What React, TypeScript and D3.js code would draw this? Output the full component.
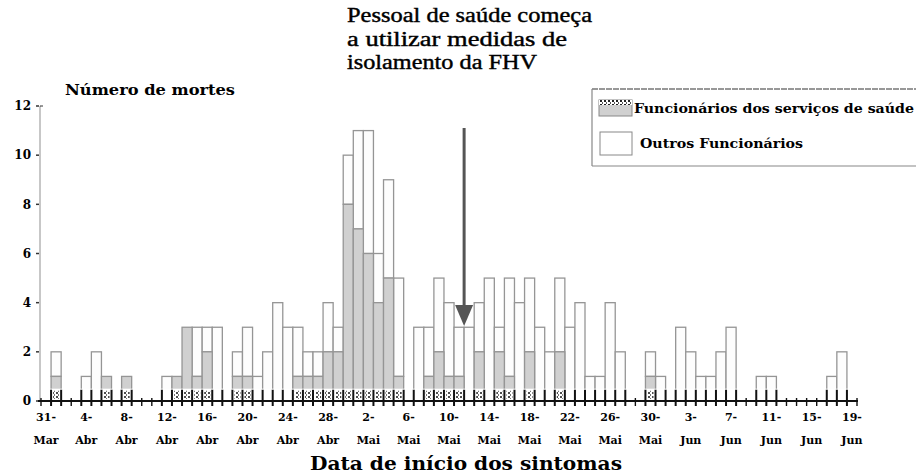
import React, { useEffect, useRef } from "react";
import * as d3 from "d3";

// one entry per day, 31-Mar .. 19-Jun
const totalDeaths = [
  0, 2, 0, 0, 1, 2, 1, 0, 1, 0, 0, 0, 1, 1, 3, 3, 3, 3, 0, 2,
  3, 1, 2, 4, 3, 3, 2, 2, 4, 3, 10, 11, 11, 6, 9, 5, 0, 3, 3, 5,
  4, 3, 3, 4, 5, 3, 5, 4, 5, 3, 2, 5, 3, 4, 1, 1, 4, 2, 0, 0,
  2, 1, 0, 3, 2, 1, 1, 2, 3, 0, 0, 1, 1, 0, 0, 0, 0, 0, 1, 2, 0,
];
const healthWorkers = [
  0, 1, 0, 0, 0, 0, 1, 0, 1, 0, 0, 0, 0, 1, 3, 1, 2, 0, 0, 1,
  1, 0, 0, 0, 0, 1, 1, 1, 2, 2, 8, 7, 6, 4, 5, 1, 0, 0, 1, 2,
  1, 1, 0, 2, 0, 2, 1, 0, 2, 0, 0, 2, 0, 0, 0, 0, 0, 0, 0, 0,
  1, 0, 0, 0, 0, 0, 0, 0, 0, 0, 0, 0, 0, 0, 0, 0, 0, 0, 0, 0, 0,
];
const tickDays = ["31-", "4-", "8-", "12-", "16-", "20-", "24-", "28-", "2-", "6-", "10-",
  "14-", "18-", "22-", "26-", "30-", "3-", "7-", "11-", "15-", "19-"];
const tickMonths = ["Mar", "Abr", "Abr", "Abr", "Abr", "Abr", "Abr", "Abr", "Mai", "Mai", "Mai",
  "Mai", "Mai", "Mai", "Mai", "Mai", "Jun", "Jun", "Jun", "Jun", "Jun"];
const yTicks = [0, 2, 4, 6, 8, 10, 12];
const annotation = ["Pessoal  de saúde começa", "a utilizar medidas de", "isolamento da FHV"];
const legendLabels = ["Funcionários dos serviços de saúde", "Outros Funcionários"];

const serif = "'DejaVu Serif', 'Liberation Serif', serif";
const times = "'Liberation Serif', 'DejaVu Serif', serif";

const App = () => {
  const ref = useRef(null);

  useEffect(() => {
    const width = 916;
    const height = 476;
    const svg = d3.select(ref.current);
    svg.selectAll("*").remove();
    svg.attr("viewBox", [0, 0, width, height]).attr("width", width).attr("height", height);

    const days = d3.range(totalDeaths.length);
    const x = d3.scaleBand().domain(days).range([41, 857]).padding(0);
    const y = d3.scaleLinear().domain([0, 12]).range([401, 106]);
    const bw = x.bandwidth();

    svg.append("rect").attr("width", width).attr("height", height).attr("fill", "#fff");

    // y axis line
    svg.append("line").attr("x1", 40).attr("x2", 40).attr("y1", y(12)).attr("y2", y(0))
      .attr("stroke", "#b5b5b5").attr("stroke-width", 1.5);
    yTicks.forEach((t) => {
      svg.append("line").attr("x1", 36).attr("x2", 39).attr("y1", y(t)).attr("y2", y(t))
        .attr("stroke", "#333").attr("stroke-width", 1.5);
      svg.append("text").attr("x", 31).attr("y", y(t)).attr("dy", "0.35em")
        .attr("text-anchor", "end").attr("font-family", serif).attr("font-weight", "bold")
        .attr("font-size", 12).text(t);
    });
    svg.append("line").attr("x1", 40).attr("x2", 43).attr("y1", y(12)).attr("y2", y(12))
      .attr("stroke", "#333");

    // stacked bars
    const stacked = days.map((d) => ({
      day: d,
      hcw: healthWorkers[d],
      total: totalDeaths[d],
    }));
    const bars = svg.append("g");
    bars.selectAll("rect.other")
      .data(stacked.filter((d) => d.total > d.hcw))
      .join("rect")
      .attr("x", (d) => x(d.day))
      .attr("y", (d) => y(d.total))
      .attr("width", bw)
      .attr("height", (d) => y(d.hcw) - y(d.total))
      .attr("fill", "#fdfdfd")
      .attr("stroke", "#959595")
      .attr("stroke-width", 1.3);
    bars.selectAll("rect.hcw")
      .data(stacked.filter((d) => d.hcw > 0))
      .join("rect")
      .attr("x", (d) => x(d.day))
      .attr("y", (d) => y(d.hcw))
      .attr("width", bw)
      .attr("height", (d) => y(0) - y(d.hcw))
      .attr("fill", "#d0d0d0")
      .attr("stroke", "#959595")
      .attr("stroke-width", 1.3);

    // the bottom strip of the scan: white band with dark bar edges
    svg.append("rect").attr("x", 41).attr("y", y(0.5)).attr("width", 816)
      .attr("height", y(0) - y(0.5)).attr("fill", "#fff");
    const defs = svg.append("defs");
    const pat = defs.append("pattern").attr("id", "chk").attr("width", 4).attr("height", 4)
      .attr("patternUnits", "userSpaceOnUse");
    pat.append("rect").attr("width", 4).attr("height", 4).attr("fill", "#fff");
    pat.append("rect").attr("width", 2).attr("height", 2).attr("fill", "#222");
    pat.append("rect").attr("x", 2).attr("y", 2).attr("width", 1).attr("height", 2).attr("fill", "#555");
    svg.append("g").selectAll("rect")
      .data(stacked.filter((d) => d.hcw > 0))
      .join("rect")
      .attr("x", (d) => x(d.day) + 2)
      .attr("y", y(0.5) + 2)
      .attr("width", bw - 4)
      .attr("height", y(0) - y(0.5) - 4)
      .attr("fill", "url(#chk)")
      .attr("opacity", 0.8);

    // bar edges in the strip
    const edges = new Set();
    stacked.forEach((d) => {
      if (d.total > 0) {
        edges.add(d.day);
        edges.add(d.day + 1);
      }
    });
    d3.range(totalDeaths.length + 1).forEach((i) => {
      const xx = 41 + i * x.step();
      const long = edges.has(i);
      svg.append("line").attr("x1", xx).attr("x2", xx)
        .attr("y1", long ? y(0.5) + 1 : y(0) - 3).attr("y2", y(0) + 5)
        .attr("stroke", "#111").attr("stroke-width", long ? 2 : 1.4);
    });

    // x axis line
    svg.append("line").attr("x1", 38).attr("x2", 858).attr("y1", y(0)).attr("y2", y(0))
      .attr("stroke", "#111").attr("stroke-width", 2.2);

    // x tick labels
    tickDays.forEach((lab, i) => {
      const cx = x(i * 4) + bw / 2;
      svg.append("text").attr("x", cx).attr("y", 421).attr("text-anchor", "middle")
        .attr("font-family", serif).attr("font-weight", "bold").attr("font-size", 11).text(lab);
      svg.append("text").attr("x", cx).attr("y", 444).attr("text-anchor", "middle")
        .attr("font-family", serif).attr("font-weight", "bold").attr("font-size", 11)
        .text(tickMonths[i]);
    });

    svg.append("text").attr("x", 310).attr("y", 470)
      .attr("font-family", serif).attr("font-weight", "bold").attr("font-size", 19)
      .attr("textLength", 312).attr("lengthAdjust", "spacingAndGlyphs")
      .text("Data de início dos sintomas");

    svg.append("text").attr("x", 65).attr("y", 95)
      .attr("font-family", serif).attr("font-weight", "bold").attr("font-size", 14)
      .attr("textLength", 170).attr("lengthAdjust", "spacingAndGlyphs")
      .text("Número de mortes");

    // annotation
    const annW = [245, 220, 190];
    annotation.forEach((t, i) => {
      svg.append("text").attr("x", 347).attr("y", 22 + i * 23.5)
        .attr("font-family", times).attr("font-size", 20)
        .attr("stroke", "#000").attr("stroke-width", 0.4)
        .attr("textLength", annW[i]).attr("lengthAdjust", "spacingAndGlyphs").text(t);
    });

    // arrow
    svg.append("line").attr("x1", x(42)).attr("x2", x(42)).attr("y1", 128).attr("y2", 310)
      .attr("stroke", "#555").attr("stroke-width", 3);
    svg.append("path")
      .attr("d", d3.line()([[x(42) - 9, 305], [x(42) + 9, 305], [x(42), 326]]) + "Z")
      .attr("fill", "#555");

    // legend
    const lg = svg.append("g");
    lg.append("line").attr("x1", 592).attr("x2", 916).attr("y1", 89).attr("y2", 89)
      .attr("stroke", "#333").attr("stroke-width", 1.2).attr("stroke-dasharray", "6 1");
    lg.append("line").attr("x1", 592).attr("x2", 592).attr("y1", 89).attr("y2", 166)
      .attr("stroke", "#888").attr("stroke-width", 1.2);
    lg.append("line").attr("x1", 592).attr("x2", 916).attr("y1", 166).attr("y2", 166)
      .attr("stroke", "#888").attr("stroke-width", 1.2);
    lg.append("rect").attr("x", 599).attr("y", 100).attr("width", 33).attr("height", 16)
      .attr("fill", "#d0d0d0").attr("stroke", "#888");
    lg.append("rect").attr("x", 599).attr("y", 100).attr("width", 33).attr("height", 5)
      .attr("fill", "url(#chk)");
    lg.append("rect").attr("x", 600).attr("y", 132).attr("width", 32).attr("height", 23)
      .attr("fill", "#fff").attr("stroke", "#888");
    lg.append("text").attr("x", 634).attr("y", 113)
      .attr("font-family", serif).attr("font-weight", "bold").attr("font-size", 12)
      .attr("textLength", 280).attr("lengthAdjust", "spacingAndGlyphs").text(legendLabels[0]);
    lg.append("text").attr("x", 640).attr("y", 148)
      .attr("font-family", serif).attr("font-weight", "bold").attr("font-size", 12)
      .attr("textLength", 163).attr("lengthAdjust", "spacingAndGlyphs").text(legendLabels[1]);
  }, []);

  return (
    <svg ref={ref} style={{ position: "absolute", left: 0, top: 0, display: "block" }}></svg>
  );
};

export default App;
